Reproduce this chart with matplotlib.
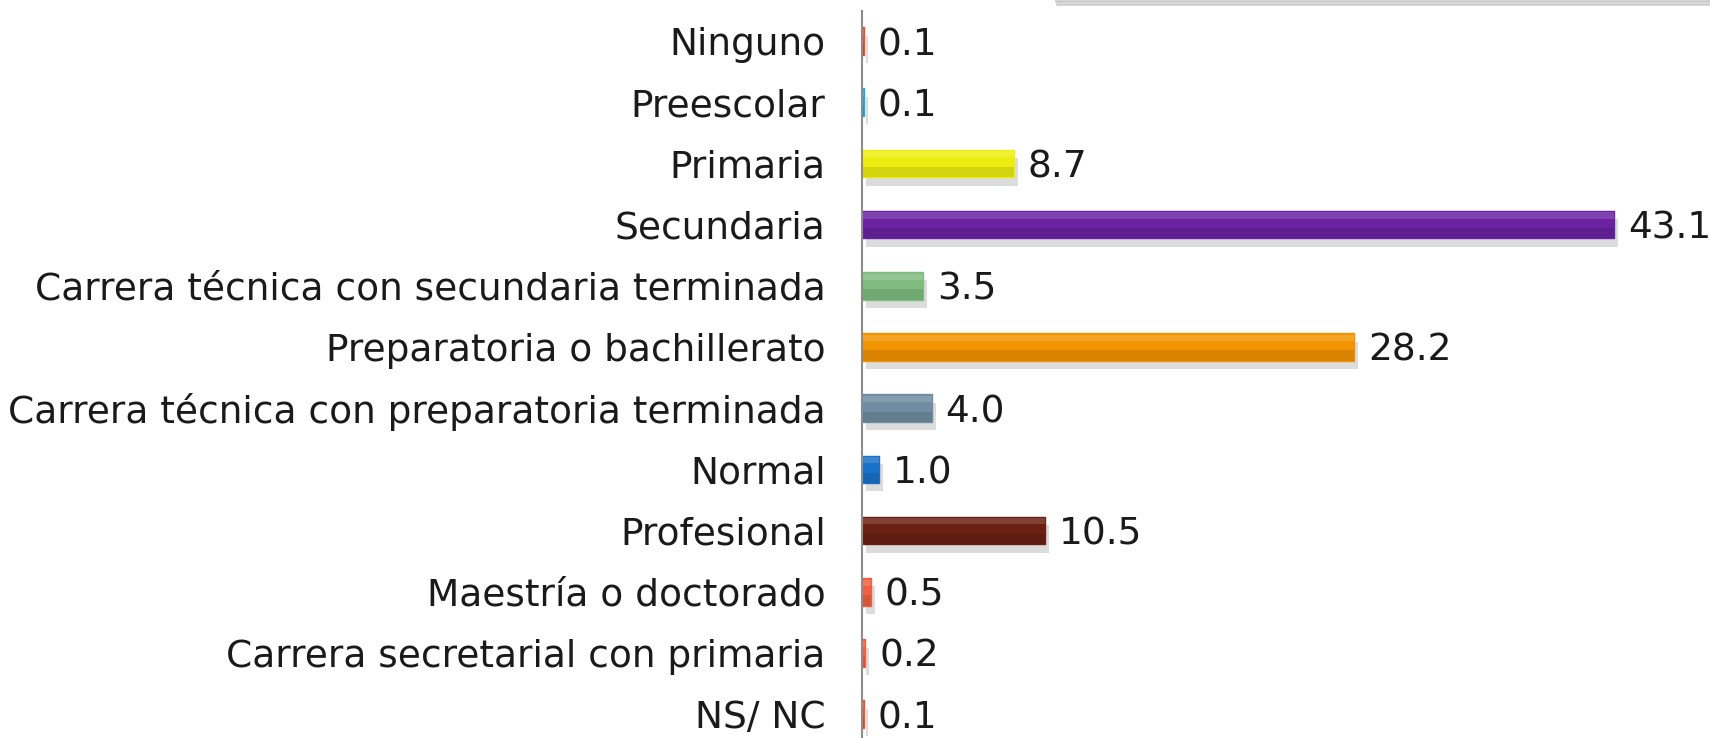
import matplotlib.pyplot as plt
import matplotlib.patheffects as pe
from matplotlib.lines import Line2D

# data
categorias = ['Ninguno', 'Preescolar', 'Primaria', 'Secundaria',
              'Carrera técnica con secundaria terminada',
              'Preparatoria o bachillerato',
              'Carrera técnica con preparatoria terminada',
              'Normal', 'Profesional', 'Maestría o doctorado',
              'Carrera secretarial con primaria', 'NS/ NC']
valores = [0.1, 0.1, 8.7, 43.1, 3.5, 28.2, 4.0, 1.0, 10.5, 0.5, 0.2, 0.1]
colores = ['#E8502A', '#1FA8E0', '#EDED10', '#6A22A0', '#80BC80', '#F29300',
           '#6F8CA2', '#1A72C8', '#6A2012', '#F06040', '#F06040', '#EE5230']
etiquetas = ['%.1f' % v for v in valores]

plt.rcParams['font.family'] = ['DejaVu Sans']

fig = plt.figure(figsize=(17.1, 7.38), dpi=100)
ax = fig.add_axes([0.504, 0.0, 0.496, 0.985])

y = list(range(len(categorias)))
sombra = [pe.SimplePatchShadow(offset=(3, -6), shadow_rgbFace='#777777', alpha=0.25),
          pe.Normal()]
barras = ax.barh(y, valores, height=0.45, color=colores, edgecolor=colores, linewidth=1)
for b in barras:
    b.set_path_effects(sombra)

# un poco de relieve: franja clara arriba, oscura abajo
ax.barh([yi - 0.15 for yi in y], valores, height=0.1, color='white', alpha=0.15, linewidth=0)
ax.barh([yi + 0.14 for yi in y], valores, height=0.17, color='black', alpha=0.1, linewidth=0)

for yi, v, t in zip(y, valores, etiquetas):
    ax.text(v + 0.8, yi, t, va='center_baseline', ha='left', fontsize=27, color='#1a1a1a')

ax.set_yticks(y)
ax.set_yticklabels(categorias, fontsize=27, color='#1a1a1a')
ax.tick_params(axis='y', length=0, pad=26)
ax.set_xticks([])
ax.set_xlim(0, 48.6)
ax.set_ylim(11.39, -0.49)

for s in ['top', 'right', 'bottom']:
    ax.spines[s].set_visible(False)
ax.spines['left'].set_color('#8c8c8c')
ax.spines['left'].set_linewidth(1.5)

# borde de recuadro cortado arriba
fig.add_artist(Line2D([1056 / 1710, 1.0], [0.998, 0.998], color='#c8c8c8', lw=1.8,
                      path_effects=[pe.SimpleLineShadow(offset=(1, -2), alpha=0.2), pe.Normal()]))

fig.savefig('out.png', dpi=100)
